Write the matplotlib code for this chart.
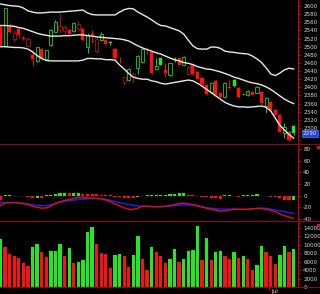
import matplotlib
matplotlib.use("Agg")
import matplotlib.pyplot as plt
from matplotlib.patches import Rectangle
from matplotlib.ticker import MultipleLocator, FixedLocator

plt.rcParams['axes.unicode_minus'] = False
plt.rcParams['font.family'] = ['DejaVu Sans']

# ---------------- data ----------------
opens = [2548, 2502, 2549, 2519, 2543, 2521, 2502, 2480, 2465, 2494,
         2469, 2504, 2537, 2541, 2539, 2541, 2539, 2543, 2543, 2500,
         2531, 2490, 2516, 2516, 2512, 2494, 2468, 2414, 2418, 2425,
         2447, 2463, 2493, 2486, 2444, 2471, 2443, 2430, 2470, 2471,
         2455, 2434, 2455, 2438, 2422, 2406, 2389, 2416, 2387, 2377,
         2402, 2418, 2398, 2383, 2380, 2389, 2387, 2389, 2354, 2365,
         2344, 2332, 2287, 2291, 2305]
highs = [2550, 2596, 2557, 2541, 2546, 2526, 2521, 2492, 2499, 2496,
         2493, 2543, 2566, 2580, 2553, 2543, 2561, 2564, 2545, 2534,
         2541, 2524, 2536, 2518, 2514, 2496, 2474, 2428, 2447, 2438,
         2480, 2496, 2496, 2488, 2471, 2473, 2459, 2461, 2475, 2473,
         2477, 2453, 2458, 2440, 2426, 2408, 2412, 2418, 2389, 2412,
         2418, 2420, 2400, 2386, 2393, 2391, 2404, 2391, 2377, 2367,
         2346, 2334, 2312, 2293, 2308]
lows = [2500, 2500, 2533, 2512, 2524, 2516, 2501, 2455, 2463, 2467,
        2467, 2502, 2535, 2533, 2529, 2528, 2537, 2540, 2514, 2485,
        2508, 2484, 2514, 2504, 2503, 2469, 2459, 2406, 2416, 2410,
        2434, 2460, 2482, 2434, 2443, 2455, 2425, 2428, 2462, 2454,
        2453, 2432, 2431, 2418, 2406, 2382, 2387, 2379, 2375, 2375,
        2396, 2400, 2374, 2380, 2378, 2380, 2385, 2360, 2337, 2342,
        2330, 2289, 2275, 2268, 2284]
closes = [2502, 2594, 2535, 2533, 2529, 2520, 2519, 2470, 2498, 2469,
          2492, 2541, 2560, 2551, 2549, 2530, 2559, 2555, 2516, 2529,
          2528, 2518, 2530, 2506, 2508, 2471, 2466, 2425, 2444, 2434,
          2477, 2494, 2491, 2436, 2452, 2456, 2436, 2459, 2468, 2456,
          2475, 2451, 2433, 2420, 2408, 2384, 2410, 2381, 2377, 2410,
          2399, 2403, 2376, 2384, 2391, 2382, 2402, 2362, 2373, 2344,
          2332, 2291, 2303, 2270, 2288]

boll_upper = [2605, 2603, 2601, 2600, 2599, 2595, 2588, 2585, 2583, 2583,
              2584, 2585, 2585, 2585, 2586, 2587, 2588, 2589, 2590, 2583,
              2579, 2578, 2578, 2578, 2578, 2578, 2585, 2591, 2594, 2593,
              2585, 2579, 2573, 2566, 2558, 2552, 2551, 2547, 2543, 2539,
              2531, 2516, 2502, 2495, 2494, 2494, 2499, 2499, 2496, 2489,
              2487, 2486, 2484, 2483, 2482, 2477, 2470, 2461, 2448, 2433,
              2429, 2435, 2443, 2447, 2445]
boll_mid = [2552, 2552, 2551, 2550, 2547, 2545, 2541, 2537, 2533, 2530,
            2528, 2526, 2526, 2526, 2527, 2527, 2528, 2529, 2529, 2527,
            2526, 2524, 2523, 2522, 2521, 2520, 2519, 2517, 2514, 2508,
            2502, 2497, 2493, 2489, 2485, 2482, 2477, 2472, 2468, 2465,
            2461, 2459, 2456, 2451, 2448, 2445, 2444, 2441, 2438, 2434,
            2430, 2425, 2422, 2418, 2414, 2411, 2409, 2406, 2401, 2395,
            2387, 2379, 2371, 2365, 2360]
boll_lower = [2500, 2500, 2499, 2498, 2498, 2497, 2494, 2487, 2478, 2471,
              2466, 2465, 2465, 2465, 2465, 2465, 2465, 2465, 2467, 2471,
              2471, 2470, 2470, 2468, 2468, 2467, 2455, 2445, 2434, 2425,
              2422, 2420, 2420, 2416, 2414, 2410, 2408, 2410, 2412, 2414,
              2416, 2418, 2416, 2410, 2403, 2395, 2387, 2379, 2371, 2363,
              2358, 2354, 2352, 2352, 2351, 2352, 2353, 2354, 2351, 2342,
              2324, 2307, 2295, 2284, 2275]

macd_hist = [-7, 0.3, 0.5, -0.5, -0.5, -0.5, -2, -3.5, -4, -4,
             0.4, 0.4, 2.7, 3.7, 4.3, 3.7, 4.3, 4.3, 2.7, 2.7,
             2, 2, 1.3, 0.7, 0.7, -2, -3, -4, -4, -4,
             -2, -0.7, 0.4, 0.4, 0.4, 0.3, 1.7, 2.3, 2.9, 3.5,
             3.5, 1.7, 0.3, -0.4, -2.3, -2.3, -3.5, -3.5, -5.2, 0.4,
             0.4, -0.4, -2, 0.4, 0.4, 0.4, 2.3, -0.4, -0.4, -2.3,
             -2.3, -5, -7, -8, -8]
macd_hist_up = [False, True, True, False, False, False, False, False, True, False,
                True, True, True, True, True, False, True, True, False, False,
                False, False, False, False, False, False, False, False, False, False,
                True, True, True, True, True, True, True, True, True, True,
                True, False, False, False, False, False, False, False, False, True,
                True, False, False, True, True, True, True, False, False, False,
                False, False, False, False, True]
macd_dif = [-12.4, -12.4, -12.4, -12.4, -12.8, -13.5, -14.5, -16, -17, -17.8,
            -17.5, -16, -14.5, -12, -10, -9, -8, -6.8, -6.3, -5.8,
            -5.5, -5.5, -5.8, -6.6, -8, -10.5, -12.4, -14, -15.5, -17,
            -18, -19, -19.4, -19.4, -19.4, -19.4, -19, -18.2, -17.5, -16.8,
            -16.4, -16.5, -17, -18, -19.5, -21, -22, -23, -23.4, -23.4,
            -23.4, -23.4, -23.6, -24, -24, -23.4, -22.3, -21.7, -22.3, -23.5,
            -25, -26.5, -28, -29.5, -30.8]
macd_dea = [-17.5, -13, -12.4, -12.4, -13, -14, -15.8, -18.5, -20.5, -22,
            -21.5, -18.5, -13.5, -11, -8.5, -7, -5, -3.2, -3.5, -4.3,
            -4.6, -4.8, -5.5, -8, -10.5, -14.5, -18, -21.5, -23.8, -24,
            -22, -18.5, -18.5, -19, -19.4, -19.4, -18.8, -17.5, -15.5, -14,
            -13.5, -14.5, -15.5, -17.5, -20, -22.3, -24, -25.5, -27, -26.5,
            -25, -24, -24, -24, -24, -23, -22.3, -22.5, -24, -25.5,
            -28, -32, -35, -37.5, -39.5]

volume = [11400, 9400, 7800, 7200, 6900, 5700, 5000, 9400, 10100, 8200,
          7100, 8500, 8500, 10100, 7400, 9200, 5700, 5900, 6400, 13000,
          14100, 10100, 8000, 7700, 4600, 7600, 7800, 7300, 4700, 7500,
          12000, 6700, 4000, 9400, 8200, 7200, 5700, 6500, 9000, 5900,
          6600, 8600, 8700, 14400, 6400, 11500, 6400, 8300, 8400, 7200,
          6700, 8300, 6800, 7300, 6700, 4000, 5300, 9700, 8300, 7200,
          5500, 7600, 9700, 8300, 8900]
volume_up = [True, False, False, False, False, False, False, True, True, False,
             False, True, True, True, False, True, False, True, True, True,
             True, False, False, False, False, True, True, False, False, True,
             True, False, False, True, False, False, False, True, True, False,
             True, True, True, True, False, True, False, True, True, False,
             False, True, False, True, False, False, True, True, False, False,
             False, True, True, False, True]

price_ticks = list(range(2300, 2601, 20))
macd_ticks = [80, 60, 40, 20, 0, -20, -40]
volume_ticks = list(range(0, 14001, 2000))
last_price_label = "2290"
month_label = "Jul"
month_start_index = 58.6

# ---------------- figure ----------------
W, H = 320, 294
fig = plt.figure(figsize=(W / 100, H / 100), dpi=100, facecolor='black')

def px_axes(top, bottom, left=0, right=298):
    return fig.add_axes([left / W, 1 - bottom / H, (right - left) / W, (bottom - top) / H])

ax_p = px_axes(0, 144)
ax_m = px_axes(144, 220)
ax_v = px_axes(221, 287)

n = len(closes)
xs = list(range(n))
x_left = -0.109
x_right = x_left + 298 / 4.58

GREEN = '#22e822'
GREEN_H = '#20d020'
RED = '#ff1010'
DRED = '#b01010'
AXRED = '#d00000'
TXT = '#d8d8d8'

for ax in (ax_p, ax_m, ax_v):
    ax.set_facecolor('black')
    ax.set_xlim(x_left, x_right)
    for s in ('left', 'top', 'bottom'):
        ax.spines[s].set_visible(False)
    ax.spines['right'].set_color(AXRED)
    ax.spines['right'].set_linewidth(0.8)
    ax.yaxis.tick_right()
    ax.tick_params(axis='y', which='major', colors=AXRED, labelcolor=TXT,
                   labelsize=4.1, length=2.5, width=0.6, pad=1.2)
    ax.tick_params(axis='y', which='minor', colors=AXRED, length=1.5, width=0.5)
    ax.set_xticks([])

# ---- candles ----
bw = 0.68
for i in xs:
    o, h, l, c = opens[i], highs[i], lows[i], closes[i]
    prev = closes[i - 1] if i > 0 else o
    hollow = c > o
    down = c < prev
    if hollow:
        col = DRED if down else GREEN_H
    else:
        col = RED if down else GREEN
    top, bot = max(o, c), min(o, c)
    ax_p.plot([i, i], [top, h], color=col, lw=0.7, solid_capstyle='butt', zorder=2)
    ax_p.plot([i, i], [l, bot], color=col, lw=0.7, solid_capstyle='butt', zorder=2)
    hgt = max(top - bot, 0.8)
    if hollow:
        ax_p.add_patch(Rectangle((i - bw / 2, bot), bw, hgt, facecolor='black',
                                 edgecolor=col, lw=0.6, zorder=3))
    else:
        ax_p.add_patch(Rectangle((i - bw / 2, bot), bw, hgt, facecolor=col,
                                 edgecolor=col, lw=0.3, zorder=3))

for band in (boll_upper, boll_mid, boll_lower):
    ax_p.plot(xs, band, color='#e8e8e8', lw=1.0, zorder=4)

ax_p.set_ylim(2600 - 138 / 0.4067, 2600 + 6 / 0.4067)
ax_p.yaxis.set_major_locator(FixedLocator(price_ticks))
ax_p.yaxis.set_minor_locator(MultipleLocator(10))

# ---- MACD ----
for i in xs:
    v = macd_hist[i]
    col = GREEN if macd_hist_up[i] else RED
    ax_m.bar(i, v, width=bw, color=col, linewidth=0, zorder=2)
ax_m.axhline(0, color='#401010', lw=0.4, zorder=1)
ax_m.plot(xs, macd_dif, color='#2020ff', lw=1.0, zorder=3)
ax_m.plot(xs, macd_dea, color='#e01010', lw=1.0, zorder=3)
ax_m.set_ylim((195.5 - 220) / 0.578, (195.5 - 144) / 0.578)
ax_m.yaxis.set_major_locator(FixedLocator(macd_ticks))
ax_m.yaxis.set_minor_locator(MultipleLocator(10))

# ---- volume ----
vcols = [GREEN if u else RED for u in volume_up]
ax_v.bar(xs, volume, width=0.72, color=vcols, linewidth=0, zorder=2)
ax_v.set_ylim(0, 66 * 236)
ax_v.yaxis.set_major_locator(FixedLocator(volume_ticks))
ax_v.yaxis.set_minor_locator(MultipleLocator(1000))

# ---- separators ----
SEP = '#7a1414'
for y in (144, 220.5, 287):
    fig.add_artist(plt.Line2D([0, 1], [1 - y / H, 1 - y / H], color=SEP, lw=0.9))

# small red markers at right of lower panels
for y in (146, 224):
    fig.add_artist(Rectangle((317 / W, 1 - (y + 3) / H), 3 / W, 3 / H,
                             facecolor='#d01818', edgecolor='none'))

# last price box
fig.text(302.5 / W, 1 - 133.2 / H, last_price_label, color='#e8e8ff', fontsize=4.1,
         va='center', ha='left',
         bbox=dict(boxstyle='square,pad=0.15', fc='#2040e0', ec='#6a8cff', lw=0.4))

# month label
mx = (month_start_index - x_left) * 4.58
fig.add_artist(plt.Line2D([mx / W, mx / W], [1 - 287 / H, 1 - 290 / H], color=AXRED, lw=0.8))
fig.text((mx + 2) / W, 1 - 291.5 / H, month_label, color=TXT, fontsize=4.1,
         va='center', ha='left')

fig.savefig('out.png', dpi=100, facecolor='black')
